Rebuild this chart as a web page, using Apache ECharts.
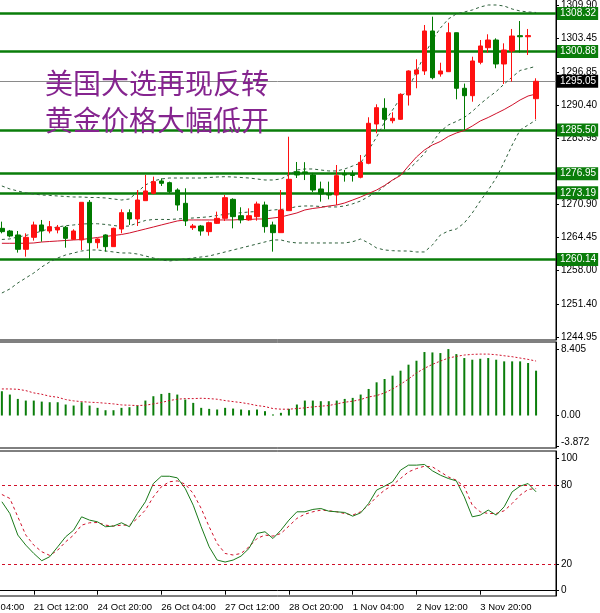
<!DOCTYPE html>
<html><head><meta charset="utf-8">
<script src="https://cdn.jsdelivr.net/npm/echarts@6/dist/echarts.min.js"></script>
<style>html,body{margin:0;padding:0;background:#fff}#c{width:600px;height:613px}</style>
</head><body><div id="c"></div>
<script>
// ---------- data ----------
const categories = [
 '20 Oct 04:00','20 Oct 08:00','20 Oct 12:00','20 Oct 16:00','20 Oct 20:00','21 Oct 00:00','21 Oct 04:00','21 Oct 08:00',
 '21 Oct 12:00','21 Oct 16:00','21 Oct 20:00','24 Oct 00:00','24 Oct 04:00','24 Oct 08:00','24 Oct 12:00','24 Oct 16:00',
 '24 Oct 20:00','25 Oct 00:00','25 Oct 04:00','25 Oct 08:00','25 Oct 12:00','25 Oct 16:00','25 Oct 20:00','26 Oct 00:00',
 '26 Oct 04:00','26 Oct 08:00','26 Oct 12:00','26 Oct 16:00','26 Oct 20:00','27 Oct 00:00','27 Oct 04:00','27 Oct 08:00',
 '27 Oct 12:00','27 Oct 16:00','27 Oct 20:00','28 Oct 00:00','28 Oct 04:00','28 Oct 08:00','28 Oct 12:00','28 Oct 16:00',
 '28 Oct 20:00','31 Oct 00:00','31 Oct 04:00','31 Oct 08:00','31 Oct 12:00','31 Oct 16:00','31 Oct 20:00','1 Nov 00:00',
 '1 Nov 04:00','1 Nov 08:00','1 Nov 12:00','1 Nov 16:00','1 Nov 20:00','2 Nov 00:00','2 Nov 04:00','2 Nov 08:00',
 '2 Nov 12:00','2 Nov 16:00','2 Nov 20:00','3 Nov 00:00','3 Nov 04:00','3 Nov 08:00','3 Nov 12:00','3 Nov 16:00',
 '3 Nov 20:00','4 Nov 00:00','4 Nov 04:00','4 Nov 08:00','4 Nov 12:00','4 Nov 16:00','4 Nov 20:00','7 Nov 00:00',
 '7 Nov 04:00','7 Nov 08:00'
];
const leadBars = 4;      // categories before the first visible candle
const labelEvery = 8;    // a time label every 8 bars

// [open, close, low, high]
const ohlc = [
 [1266.24,1265.59,1265.26,1267.55],[1265.72,1264.74,1264.48,1265.92],[1264.94,1262.13,1261.48,1265.72],[1262.13,1264.48,1260.69,1265.26],
 [1264.48,1266.90,1263.83,1267.55],[1266.90,1265.72,1263.63,1267.88],[1265.72,1266.57,1265.26,1267.68],[1265.92,1266.44,1265.26,1266.90],
 [1266.44,1264.28,1262.45,1266.70],[1264.09,1265.72,1263.96,1266.05],[1263.96,1271.34,1262.00,1271.34],[1271.34,1263.43,1260.17,1271.79],
 [1263.43,1264.15,1262.32,1264.28],[1264.94,1262.65,1261.67,1265.07],[1262.65,1266.24,1262.65,1266.37],[1266.11,1269.31,1265.26,1269.96],
 [1269.31,1268.07,1266.90,1269.96],[1268.07,1271.79,1266.70,1273.75],[1271.66,1273.56,1271.66,1276.69],[1273.10,1275.39,1272.90,1276.37],
 [1275.52,1275.06,1274.54,1276.04],[1275.19,1273.43,1273.10,1275.39],[1273.75,1270.81,1269.70,1274.08],[1271.14,1267.68,1266.70,1274.08],
 [1266.37,1266.70,1265.92,1267.09],[1266.70,1265.72,1264.80,1266.90],[1265.59,1267.35,1264.80,1267.55],[1267.22,1268.20,1267.09,1269.51],
 [1268.20,1272.25,1267.68,1272.77],[1271.92,1268.53,1266.24,1272.12],[1268.72,1267.88,1267.22,1270.36],[1267.88,1268.72,1267.74,1270.16],
 [1268.53,1271.01,1267.74,1271.47],[1270.81,1266.57,1265.39,1271.47],[1266.90,1265.39,1261.67,1267.55],[1265.39,1269.83,1265.39,1273.75],
 [1269.70,1275.85,1269.70,1284.19],[1277.34,1276.69,1276.10,1279.24],[1277.30,1277.00,1275.70,1279.20],[1276.69,1273.75,1273.36,1277.10],
 [1273.95,1272.97,1271.47,1275.39],[1273.10,1272.77,1271.92,1275.39],[1272.77,1276.56,1270.81,1278.65],[1277.00,1276.69,1275.39,1277.67],
 [1276.90,1276.60,1275.40,1277.60],[1276.24,1279.17,1276.04,1280.61],[1278.98,1286.82,1278.80,1288.00],[1286.68,1289.88,1284.86,1290.54],
 [1289.76,1287.60,1285.64,1291.72],[1287.33,1287.80,1286.82,1288.98],[1287.60,1292.50,1287.47,1292.70],[1292.37,1297.07,1290.30,1297.20],
 [1296.48,1297.27,1293.68,1299.36],[1297.07,1304.91,1296.29,1306.08],[1304.91,1295.76,1295.44,1307.71],[1296.48,1297.07,1295.96,1298.69],
 [1296.93,1304.57,1296.90,1306.53],[1304.57,1293.68,1291.52,1304.60],[1293.68,1292.23,1285.51,1294.60],[1292.23,1299.03,1291.05,1299.87],
 [1298.77,1301.97,1298.38,1303.14],[1301.63,1303.14,1300.65,1304.26],[1303.14,1298.44,1297.60,1303.47],[1298.44,1301.18,1294.52,1302.49],
 [1300.98,1303.92,1294.97,1305.30],[1303.99,1303.78,1300.65,1306.86],[1303.78,1304.00,1300.20,1305.30],[1291.64,1295.05,1287.60,1295.64]
];
const maLine = [
 1263.31,1263.31,1263.31,1263.31,1263.37,1263.56,1263.66,1263.76,1263.86,1263.96,
 1264.05,1264.25,1264.45,1264.64,1264.84,1265.03,1265.33,1265.72,1266.11,1266.50,
 1266.90,1267.29,1267.68,1267.88,1267.88,1267.88,1267.88,1267.88,1267.88,1267.88,
 1267.97,1267.97,1268.07,1268.07,1268.27,1268.46,1268.86,1269.25,1269.84,1270.13,
 1270.33,1270.62,1270.81,1271.21,1271.79,1272.38,1273.07,1273.75,1274.64,1275.71,
 1276.59,1278.46,1280.22,1281.59,1282.57,1283.26,1284.24,1284.92,1285.41,1286.29,
 1287.27,1287.96,1288.74,1289.52,1290.41,1291.39,1292.17,1292.56
];
const bbUpper = [
 1274.54,1273.95,1273.56,1273.17,1272.97,1272.77,1272.68,1272.58,1272.48,1272.38,
 1272.38,1272.28,1272.28,1272.19,1271.99,1271.79,1271.99,1273.36,1274.73,1275.52,
 1275.91,1276.10,1276.10,1276.10,1276.10,1276.10,1276.20,1276.30,1276.36,1276.30,
 1276.20,1276.10,1275.91,1275.71,1275.71,1275.91,1276.69,1277.67,1277.87,1277.87,
 1277.67,1277.48,1277.48,1277.87,1278.46,1279.04,1281.59,1284.14,1287.08,1289.43,
 1291.78,1293.74,1296.87,1300.20,1303.14,1305.49,1307.26,1308.24,1308.63,1309.02,
 1309.61,1310.00,1310.00,1309.80,1309.21,1308.82,1308.63,1308.53
];
const bbMiddle = [
 1264.06,1264.16,1264.55,1264.84,1265.23,1265.72,1266.17,1266.51,1266.75,1266.90,
 1267.09,1267.14,1267.14,1267.00,1266.80,1266.60,1266.70,1267.29,1267.78,1267.98,
 1267.98,1267.97,1268.07,1268.17,1268.27,1268.37,1268.51,1268.76,1268.99,1269.15,
 1269.30,1269.44,1269.54,1269.64,1269.84,1269.94,1270.13,1270.52,1270.62,1270.62,
 1270.52,1270.43,1270.43,1270.62,1271.04,1271.60,1272.48,1273.27,1274.54,1275.65,
 1276.79,1277.77,1279.24,1280.91,1283.06,1285.22,1286.49,1287.18,1287.96,1289.14,
 1290.61,1291.88,1293.05,1294.52,1295.89,1297.17,1297.56,1298.00
];
const bbLower = [
 1253.57,1254.36,1255.53,1256.51,1257.49,1258.67,1259.65,1260.43,1261.02,1261.41,
 1261.80,1262.00,1262.00,1261.80,1261.61,1261.41,1261.41,1261.21,1260.82,1260.43,
 1260.04,1259.84,1260.04,1260.24,1260.43,1260.63,1260.82,1261.21,1261.61,1262.00,
 1262.39,1262.78,1263.17,1263.57,1263.96,1263.96,1263.57,1263.37,1263.37,1263.37,
 1263.37,1263.37,1263.37,1263.37,1263.62,1264.15,1263.37,1262.39,1262.00,1261.86,
 1261.80,1261.80,1261.61,1261.61,1262.98,1264.94,1265.72,1266.11,1267.29,1269.25,
 1271.60,1273.75,1276.10,1279.24,1282.57,1285.51,1286.49,1287.47
];
const macdMain = [
 3.07,2.65,2.10,1.89,1.89,1.76,1.68,1.68,1.39,1.26,
 1.68,1.26,0.97,0.67,0.67,0.97,1.05,1.26,1.89,2.44,
 2.73,2.86,2.65,2.02,1.60,0.97,0.84,0.76,0.97,0.88,
 0.76,0.67,0.76,0.55,0.13,0.34,0.84,1.39,1.89,1.89,
 1.81,1.81,1.89,2.10,2.23,2.65,3.36,4.20,4.62,5.04,
 5.67,6.43,6.93,8.03,7.98,7.90,8.405,7.77,7.27,7.06,
 7.18,7.27,7.06,6.85,6.85,6.85,6.64,5.67
];
const macdSignal = [
 3.36,3.36,3.32,3.15,2.86,2.69,2.44,2.31,2.02,1.85,
 1.76,1.68,1.64,1.55,1.47,1.34,1.30,1.26,1.30,1.47,
 1.64,1.89,2.06,2.14,2.14,2.18,2.14,2.06,1.89,1.76,
 1.64,1.47,1.26,1.13,0.88,0.80,0.80,0.88,0.97,1.09,
 1.18,1.26,1.47,1.68,1.81,2.02,2.35,2.52,2.86,3.36,
 3.95,4.62,5.38,5.97,6.47,6.89,7.27,7.48,7.65,7.73,
 7.77,7.77,7.69,7.56,7.44,7.27,7.10,6.89
];
const stochK = [
 67.3,58.4,42.1,34.5,28.2,22.7,25.7,33.2,40.8,45.8,
 55.9,53.4,52.1,48.4,48.9,51.4,48.4,58.4,67.3,81.1,
 86.6,86.6,85.4,77.3,64.7,48.4,33.2,23.2,21.7,23.2,
 26.2,32.0,43.3,44.6,39.5,45.8,53.4,59.7,59.7,61.5,
 62.2,60.2,59.7,59.2,56.4,58.9,66.0,76.1,79.1,82.4,
 91.2,95.0,95.0,95.5,90.7,87.4,84.9,83.1,71.0,55.9,
 57.2,61.0,57.2,63.5,74.8,79.1,81.1,74.8
];
const stochD = [
 72.8,69.8,55.9,42.1,34.5,29.5,26.7,30.7,37.0,42.1,
 49.6,51.4,51.6,49.6,48.9,49.6,49.6,54.7,61.0,71.0,
 78.6,82.4,83.1,80.6,73.6,62.2,48.4,35.8,28.2,27.0,
 28.2,33.2,39.5,42.1,41.3,43.3,48.9,54.7,57.9,59.7,
 61.0,60.5,59.7,58.4,57.2,59.7,64.7,71.0,76.1,79.8,
 84.9,89.9,92.4,94.2,93.7,89.9,86.1,83.6,78.6,64.7,
 59.7,58.4,58.4,60.5,66.0,72.3,76.6,77.3
];
const levelLines = [1308.32, 1300.88, 1285.50, 1276.95, 1273.19, 1260.14];
const lastPrice = 1295.05;
const priceTicks = [1309.90, 1303.45, 1296.85, 1290.40, 1283.95, 1270.90, 1264.45, 1258.00, 1251.40, 1244.95];
const macdTicks = [8.405, 0.00, -3.872];
const macdTickText = ['8.405', '0.00', '-3.872'];
const stochTicks = [100, 80, 20, 0];
const stochLevels = [80, 20];
const titleLines = ['美国大选再现反转', '黄金价格大幅低开'];

// ---------- chart ----------
const trailBars = categories.length - leadBars - ohlc.length;
const pad = (arr, empty) => Array(leadBars).fill(empty).concat(arr, Array(trailBars).fill(empty));

const GREEN = '#007a00', RED = '#ff1010', PURPLE = '#85248f';
const FONT = 'Liberation Sans';
const gridL = -34, gridW = 590;
const lastIdx = leadBars + ohlc.length - 1;

const labelInterval = (i) => i % labelEvery === 0 && i <= lastIdx;

const chart = echarts.init(document.getElementById('c'), null, {renderer: 'canvas'});
const baseX = (gi, show) => ({
  type: 'category', gridIndex: gi, data: categories, boundaryGap: true,
  axisLine: {show: show, lineStyle: {color: '#000', width: 1}},
  axisTick: {show: show, interval: labelInterval, alignWithLabel: true, length: 4, lineStyle: {color: '#000'}},
  axisLabel: {show: show, interval: labelInterval, align: 'left', margin: 6, color: '#000', fontSize: 9.5, fontFamily: FONT, hideOverlap: false},
  splitLine: {show: false}
});
const baseY = (gi, min, max, ticks, fmt) => ({
  type: 'value', gridIndex: gi, position: 'right', min: min, max: max, scale: true,
  axisLine: {show: true, lineStyle: {color: '#000', width: 1}},
  axisTick: {show: true, customValues: ticks, length: 3, lineStyle: {color: '#000'}},
  axisLabel: {show: true, customValues: ticks, formatter: fmt, margin: 5, color: '#000', fontSize: 10, fontFamily: FONT,
              rich: {lo: {padding: [0, 0, 7, 0], fontSize: 10, fontFamily: FONT, color: '#000'}}},
  splitLine: {show: false}
});

const levelData = levelLines.map(v => ({
  yAxis: v,
  lineStyle: {color: '#0a7d0a', width: 2.5, type: 'solid'},
  label: {backgroundColor: '#0a7d0a', color: '#fff'}
}));
levelData.push({
  yAxis: lastPrice,
  lineStyle: {color: '#8a8a8a', width: 1, type: 'solid'},
  label: {backgroundColor: '#000', color: '#fff'}
});

const gridCommon = {left: gridL, width: gridW, show: true, borderColor: '#000', borderWidth: 1, outerBoundsMode: 'none', containLabel: false};

const option = {
  animation: false,
  backgroundColor: '#fff',
  title: {
    text: titleLines.join('\n'), left: 40, top: 60,
    textStyle: {color: PURPLE, fontSize: 28, lineHeight: 37, fontWeight: 'normal', fontFamily: 'Noto Sans CJK SC'}
  },
  grid: [
    Object.assign({}, gridCommon, {top: -2, height: 342}),
    Object.assign({}, gridCommon, {top: 342, height: 106}),
    Object.assign({}, gridCommon, {top: 451, height: 145})
  ],
  xAxis: [baseX(0, false), baseX(1, false), baseX(2, true)],
  yAxis: [
    baseY(0, 1244.36, 1311.37, priceTicks, v => v.toFixed(2)),
    baseY(1, -4.11, 9.30, macdTicks, v => {
      const i = macdTicks.findIndex(t => Math.abs(t - v) < 1e-6);
      const s = i >= 0 ? macdTickText[i] : String(v);
      return v < 0 ? '{lo|' + s + '}' : s;
    }),
    baseY(2, -4.0, 105.7, stochTicks, v => String(Math.round(v)))
  ],
  series: [
    {
      type: 'line', name: 'BB upper', xAxisIndex: 0, yAxisIndex: 0, data: pad(bbUpper, '-'),
      showSymbol: false, lineStyle: {color: '#2d5f3a', width: 1, type: [3, 3]}, z: 3
    },
    {
      type: 'line', name: 'BB middle', xAxisIndex: 0, yAxisIndex: 0, data: pad(bbMiddle, '-'),
      showSymbol: false, lineStyle: {color: '#2d5f3a', width: 1, type: [3, 3]}, z: 3
    },
    {
      type: 'line', name: 'BB lower', xAxisIndex: 0, yAxisIndex: 0, data: pad(bbLower, '-'),
      showSymbol: false, lineStyle: {color: '#2d5f3a', width: 1, type: [3, 3]}, z: 3
    },
    {
      type: 'line', name: 'MA', xAxisIndex: 0, yAxisIndex: 0, data: pad(maLine, '-'),
      showSymbol: false, lineStyle: {color: '#d0102a', width: 1}, z: 3
    },
    {
      type: 'candlestick', name: 'XAUUSD', xAxisIndex: 0, yAxisIndex: 0,
      data: pad(ohlc, ['-', '-', '-', '-']), barWidth: 5, z: 4,
      itemStyle: {color: RED, color0: GREEN, borderColor: RED, borderColor0: GREEN, borderWidth: 1},
      markLine: {
        silent: true, symbol: ['none', 'none'], animation: false, z: 2,
        label: {position: 'end', distance: 1, formatter: p => p.value.toFixed(2), fontSize: 10, fontFamily: FONT,
                padding: [1, 2, 0, 3], lineHeight: 12},
        data: levelData
      }
    },
    {
      type: 'bar', name: 'MACD', xAxisIndex: 1, yAxisIndex: 1, data: pad(macdMain, '-'),
      barWidth: 2, itemStyle: {color: '#0a7d0a'}
    },
    {
      type: 'line', name: 'Signal', xAxisIndex: 1, yAxisIndex: 1, data: pad(macdSignal, '-'),
      showSymbol: false, lineStyle: {color: '#d0102a', width: 1, type: [2, 2]}
    },
    {
      type: 'line', name: '%K', xAxisIndex: 2, yAxisIndex: 2, data: pad(stochK, '-'),
      showSymbol: false, lineStyle: {color: '#1a7a1a', width: 1}, z: 4
    },
    {
      type: 'line', name: '%D', xAxisIndex: 2, yAxisIndex: 2, data: pad(stochD, '-'),
      showSymbol: false, lineStyle: {color: '#d0102a', width: 1, type: [3, 3]}, z: 3,
      markLine: {
        silent: true, symbol: ['none', 'none'], animation: false, label: {show: false},
        lineStyle: {color: '#d0102a', width: 1, type: [3, 3]},
        data: stochLevels.map(v => ({yAxis: v}))
      }
    }
  ]
};
chart.setOption(option);
</script>
</body></html>
